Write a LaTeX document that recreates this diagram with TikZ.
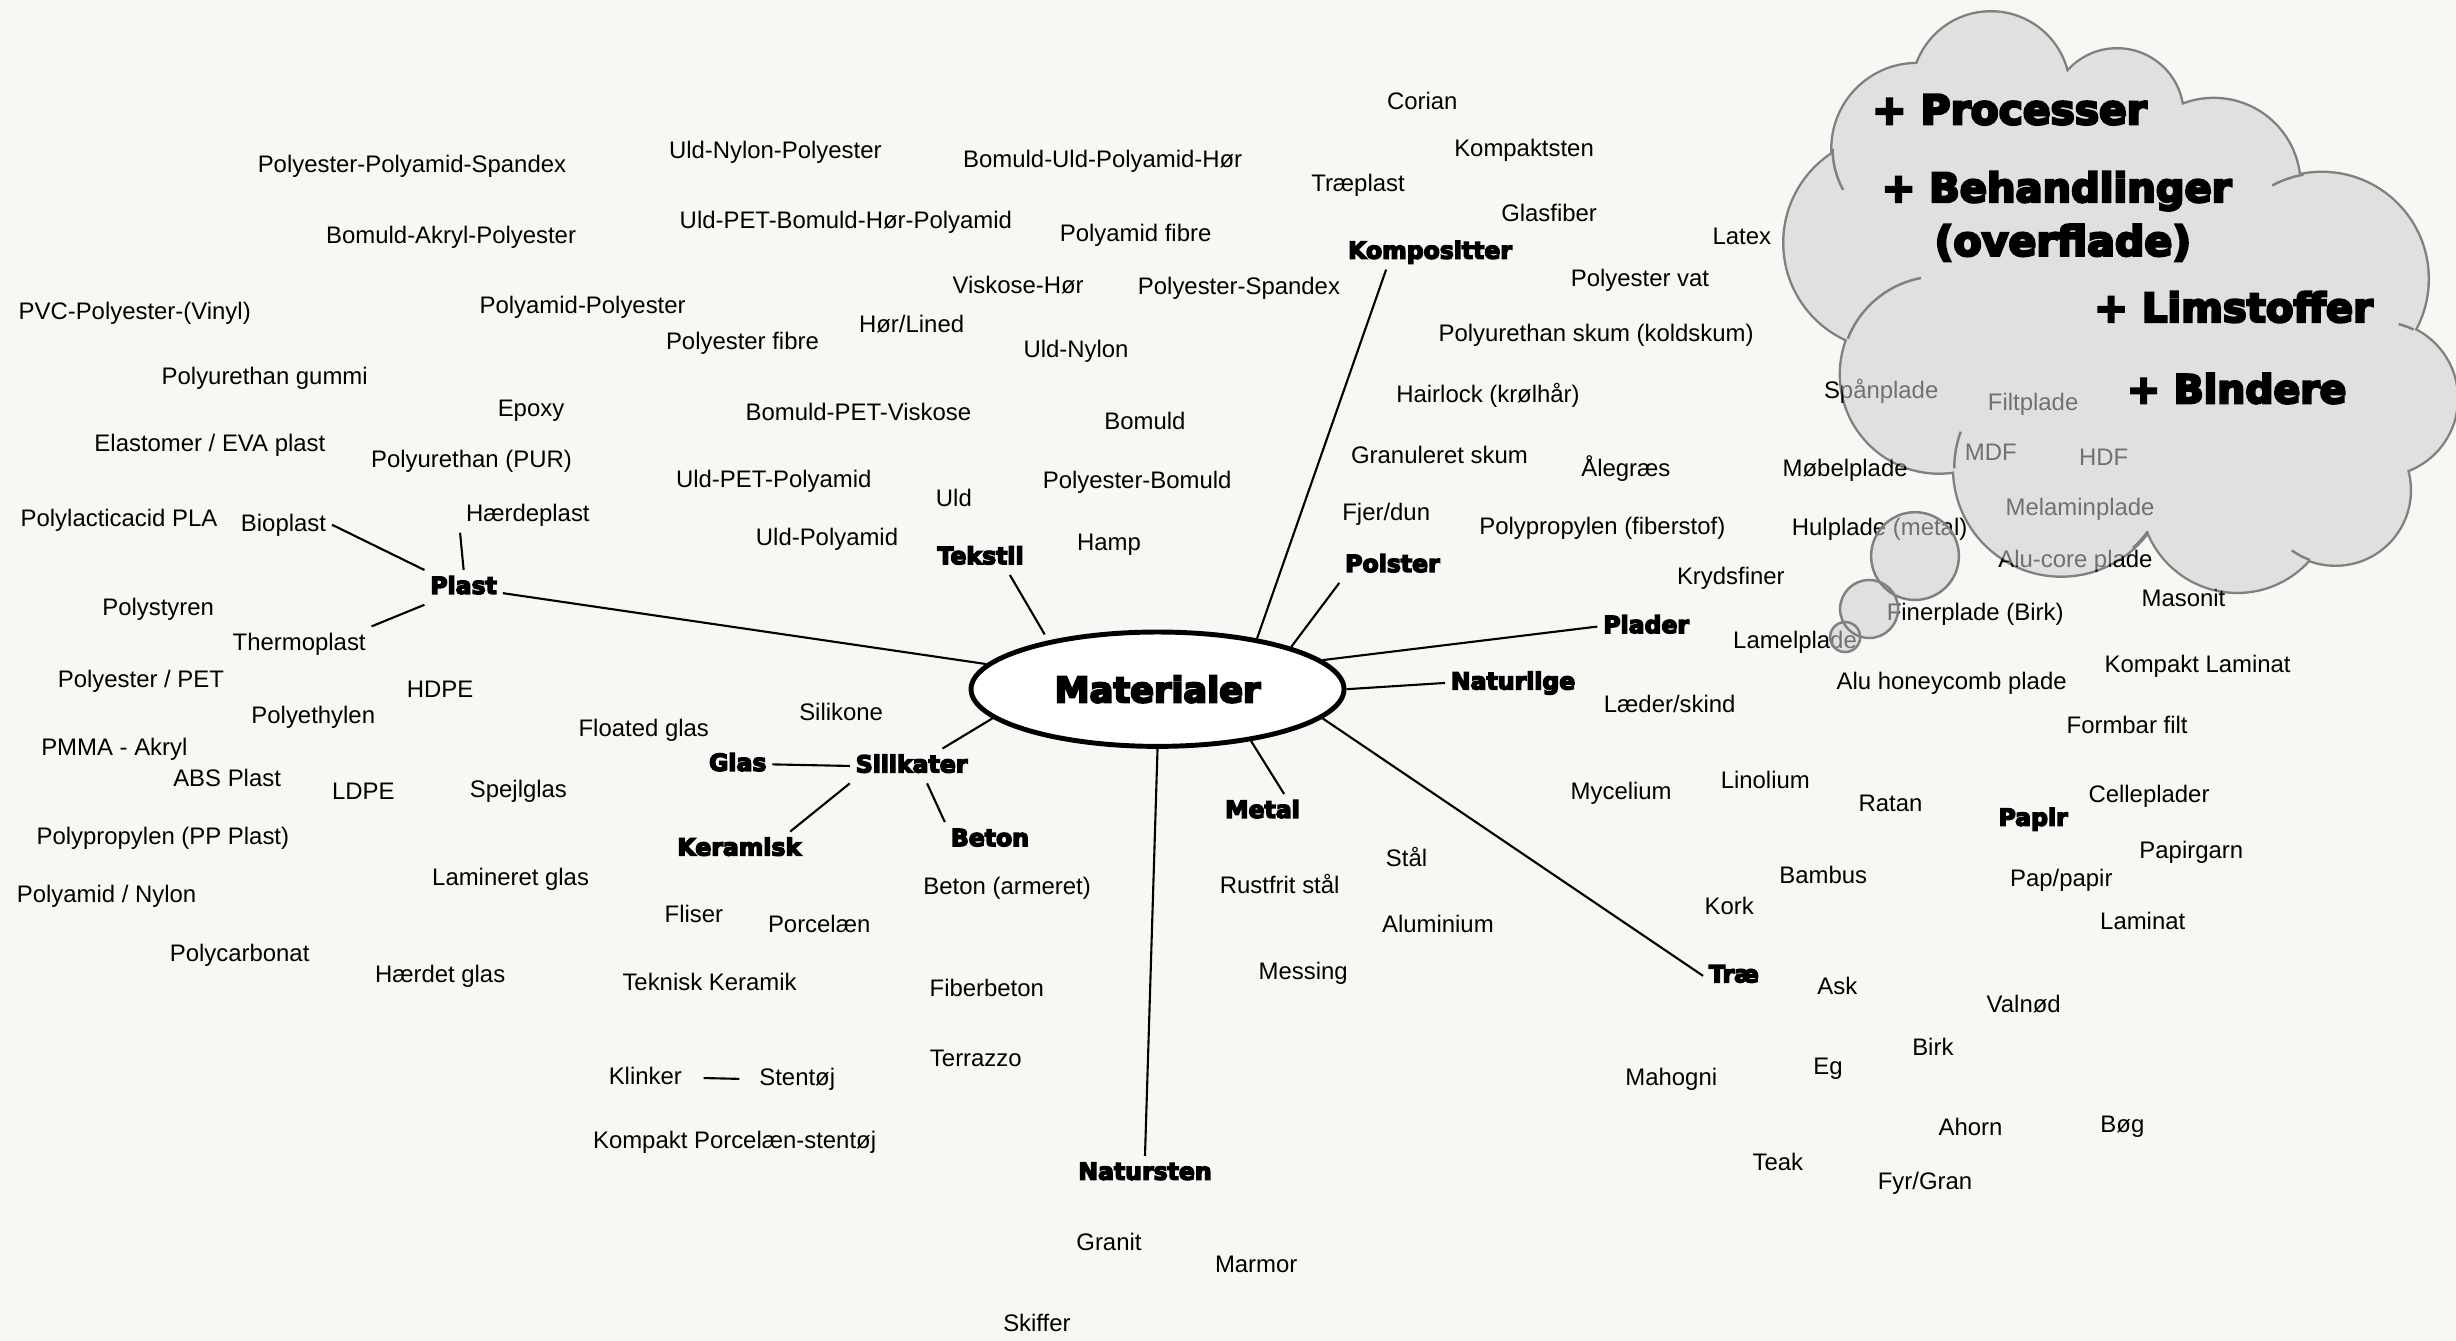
\documentclass[tikz,border=0pt]{standalone}
\usepackage{fontspec}
\setmainfont{Liberation Sans}
\newfontfamily\heavy[FakeBold=6]{DejaVu Sans Bold}
\usetikzlibrary{shapes.geometric,calc}
\definecolor{bgc}{HTML}{F8F7F3}
\definecolor{cloudf}{HTML}{E0E0E0}
\definecolor{cloudl}{HTML}{808080}
\tikzset{
  lbl/.style={font=\fontsize{6.8}{8}\selectfont, inner sep=1.5pt, text height=5.1pt, text depth=1.4pt},
  cat/.style={font=\heavy\fontsize{6.7}{8}\selectfont, inner sep=1.5pt, text height=5.1pt, text depth=1.4pt},
  conn/.style={line width=0.6pt, black},
  bigtxt/.style={font=\heavy\fontsize{#1}{13}\selectfont, inner sep=0pt},
  cloudedge/.style={draw=cloudl, line width=0.7pt},
}
\def\lobes{1271/57.8/0.780, 1224/95/0.846, 1207/155/1.060, 1238/239/0.980, 1316/299/1.070, 1428.3/316.6/0.957, 1491/313/0.742, 1519.5/254.4/0.766, 1482.3/178/1.057, 1413.3/117.9/0.855, 1351.6/73.3/0.653}
\def\fillers{1347/187/1.801, 1440/250/0.800}
\def\bubbles{1222.6/355/0.4386, 1193.3/388.8/0.290, 1178/406.7/0.150}
\begin{document}
\begin{tikzpicture}[x=0.015663cm, y=-0.015663cm]
\fill[bgc] (0,0) rectangle (1568,856);
\useasboundingbox (0,0) rectangle (1568,856);

% ---- cloud (thought bubble) ----
\draw[cloudl, line width=1.4pt] foreach \x/\y/\r in \lobes {(\x,\y) circle[radius=\r cm]};
\fill[cloudf] foreach \x/\y/\r in \lobes {(\x,\y) circle[radius=\r cm]} foreach \x/\y/\r in \fillers {(\x,\y) circle[radius=\r cm]};
\foreach \x/\y/\r in \bubbles {\fill[cloudf] (\x,\y) circle[radius=\r cm];}

% ---- Materialer hub ----
\node[ellipse, draw, line width=1.4pt, fill=white, minimum width=3.728cm, minimum height=1.143cm, inner sep=0pt, font=\heavy\fontsize{10}{11}\selectfont] (mat) at (739,440) {Materialer};

% ---- Plast / left ----
\node[lbl] (ppspandex) at (263,106) {Polyester-Polyamid-Spandex};
\node[lbl] (bap) at (288,151) {Bomuld-Akryl-Polyester};
\node[lbl] (pvc) at (86,200) {PVC-Polyester-(Vinyl)};
\node[lbl] (pampes) at (372,196) {Polyamid-Polyester};
\node[lbl] (pugummi) at (169,241) {Polyurethan gummi};
\node[lbl] (epoxy) at (339,262) {Epoxy};
\node[lbl] (eva) at (134,284) {Elastomer / EVA plast};
\node[lbl] (pur) at (301,294) {Polyurethan (PUR)};
\node[lbl] (pla) at (76,332) {Polylacticacid PLA};
\node[lbl] (bioplast) at (181,335) {Bioplast};
\node[lbl] (haerdeplast) at (337,329) {Hærdeplast};
\node[cat] (plast) at (296,375) {Plast};
\node[lbl] (polystyren) at (101,389) {Polystyren};
\node[lbl] (thermoplast) at (191,411) {Thermoplast};
\node[lbl] (pet) at (90,435) {Polyester / PET};
\node[lbl] (hdpe) at (281,441) {HDPE};
\node[lbl] (polyethylen) at (200,458) {Polyethylen};
\node[lbl] (pmma) at (73,478) {PMMA - Akryl};
\node[lbl] (abs) at (145,498) {ABS Plast};
\node[lbl] (ldpe) at (232,506) {LDPE};
\node[lbl] (spejlglas) at (331,505) {Spejlglas};
\node[lbl] (pp) at (104,535) {Polypropylen (PP Plast)};
\node[lbl] (nylon) at (68,572) {Polyamid / Nylon};
\node[lbl] (polycarbonat) at (153,610) {Polycarbonat};
\node[lbl] (haerdetglas) at (281,623) {Hærdet glas};
\node[lbl] (lamglas) at (326,561) {Lamineret glas};
\node[lbl] (floated) at (411,466) {Floated glas};
\node[lbl] (silikone) at (537,456) {Silikone};
\node[cat] (glas) at (471,488) {Glas};
\node[cat] (silikater) at (582,489) {Silikater};
\node[cat] (keramisk) at (472,542) {Keramisk};
\node[cat] (beton) at (632,536) {Beton};
\node[lbl] (betonarm) at (643,567) {Beton (armeret)};
\node[lbl] (fliser) at (443,585) {Fliser};
\node[lbl] (porcelaen) at (523,591) {Porcelæn};
\node[lbl] (teknisk) at (453,628) {Teknisk Keramik};
\node[lbl] (fiberbeton) at (630,632) {Fiberbeton};
\node[lbl] (terrazzo) at (623,677) {Terrazzo};
\node[lbl] (klinker) at (412,688) {Klinker};
\node[lbl] (stentoj) at (509,689) {Stentøj};
\node[lbl] (kompaktpors) at (469,729) {Kompakt Porcelæn-stentøj};
\node[cat] (natursten) at (731,749) {Natursten};
\node[lbl] (granit) at (708,794) {Granit};
\node[lbl] (marmor) at (802,808) {Marmor};
\node[lbl] (skiffer) at (662,846) {Skiffer};
\node[cat] (metal) at (806,518) {Metal};
\node[lbl] (rustfrit) at (817,566) {Rustfrit stål};
\node[lbl] (staal) at (898,549) {Stål};
\node[lbl] (aluminium) at (918,591) {Aluminium};
\node[lbl] (messing) at (832,621) {Messing};

% ---- Tekstil / top ----
\node[lbl] (unp) at (495,97) {Uld-Nylon-Polyester};
\node[lbl] (upbhp) at (540,142) {Uld-PET-Bomuld-Hør-Polyamid};
\node[lbl] (buph) at (704,103) {Bomuld-Uld-Polyamid-Hør};
\node[lbl] (pafibre) at (725,150) {Polyamid fibre};
\node[lbl] (viskose) at (650,183) {Viskose-Hør};
\node[lbl] (pspandex) at (791,184) {Polyester-Spandex};
\node[lbl] (pfibre) at (474,219) {Polyester fibre};
\node[lbl] (hoer) at (582,208) {Hør/Lined};
\node[lbl] (uldnylon) at (687,224) {Uld-Nylon};
\node[lbl] (bpv) at (548,264) {Bomuld-PET-Viskose};
\node[lbl] (bomuld) at (731,270) {Bomuld};
\node[lbl] (upp) at (494,307) {Uld-PET-Polyamid};
\node[lbl] (pbomuld) at (726,308) {Polyester-Bomuld};
\node[lbl] (uld) at (609,319) {Uld};
\node[lbl] (uldpa) at (528,344) {Uld-Polyamid};
\node[cat] (tekstil) at (626,356) {Tekstil};
\node[lbl] (hamp) at (708,347) {Hamp};

% ---- right side ----
\node[lbl] (corian) at (908,66) {Corian};
\node[lbl] (kompaktsten) at (973,96) {Kompaktsten};
\node[lbl] (traeplast) at (867,118) {Træplast};
\node[lbl] (glasfiber) at (989,137) {Glasfiber};
\node[cat] (kompositter) at (913,161) {Kompositter};
\node[lbl] (latex) at (1112,152) {Latex};
\node[lbl] (pvat) at (1047,179) {Polyester vat};
\node[lbl] (puskum) at (1019,214) {Polyurethan skum (koldskum)};
\node[lbl] (hairlock) at (950,253) {Hairlock (krølhår)};
\node[lbl] (granuleret) at (919,292) {Granuleret skum};
\node[lbl] (alegraes) at (1038,300) {Ålegræs};
\node[lbl] (mobelplade) at (1178,300) {Møbelplade};
\node[lbl] (fjer) at (885,328) {Fjer/dun};
\node[lbl] (ppfiber) at (1023,337) {Polypropylen (fiberstof)};
\node[cat] (polster) at (889,361) {Polster};
\node[lbl] (hulplade) at (1200,338) {Hulplade (metal)};
\node[lbl] (krydsfiner) at (1105,369) {Krydsfiner};
\node[cat] (plader) at (1051,400) {Plader};
\node[lbl] (lamelplade) at (1146,410) {Lamelplade};
\node[lbl] (finerplade) at (1261,392) {Finerplade (Birk)};
\node[lbl] (masonit) at (1394,383) {Masonit};
\node[cat] (naturlige) at (966,436) {Naturlige};
\node[lbl] (aluhoney) at (1246,436) {Alu honeycomb plade};
\node[lbl] (kompaktlam) at (1403,425) {Kompakt Laminat};
\node[lbl] (laeder) at (1066,451) {Læder/skind};
\node[lbl] (formbar) at (1358,464) {Formbar filt};
\node[lbl] (mycelium) at (1035,506) {Mycelium};
\node[lbl] (linolium) at (1127,499) {Linolium};
\node[lbl] (ratan) at (1207,514) {Ratan};
\node[cat] (papir) at (1298,523) {Papir};
\node[lbl] (celleplader) at (1372,508) {Celleplader};
\node[lbl] (papirgarn) at (1399,544) {Papirgarn};
\node[lbl] (pappapir) at (1316,562) {Pap/papir};
\node[lbl] (bambus) at (1164,560) {Bambus};
\node[lbl] (kork) at (1104,580) {Kork};
\node[lbl] (laminat) at (1368,589) {Laminat};
\node[cat] (trae) at (1107,623) {Træ};
\node[lbl] (ask) at (1173,631) {Ask};
\node[lbl] (valnod) at (1292,642) {Valnød};
\node[lbl] (birk) at (1234,670) {Birk};
\node[lbl] (eg) at (1167,682) {Eg};
\node[lbl] (mahogni) at (1067,689) {Mahogni};
\node[lbl] (ahorn) at (1258,721) {Ahorn};
\node[lbl] (bog) at (1355,719) {Bøg};
\node[lbl] (teak) at (1135,743) {Teak};
\node[lbl] (fyr) at (1229,755) {Fyr/Gran};

% ---- texts under the cloud ----
\node[lbl] (spanplade) at (1201,250) {Spånplade};
\node[lbl] (filtplade) at (1298,258) {Filtplade};
\node[lbl] (mdf) at (1271,290) {MDF};
\node[lbl] (hdf) at (1343,293) {HDF};
\node[lbl] (melamin) at (1328,325) {Melaminplade};
\node[lbl] (alucore) at (1325,358) {Alu-core plade};

% ---- cloud veil over the texts beneath it ----
\fill[cloudf, fill opacity=0.5] foreach \x/\y/\r in \lobes {(\x,\y) circle[radius=\r cm]} foreach \x/\y/\r in \fillers {(\x,\y) circle[radius=\r cm]} foreach \x/\y/\r in \bubbles {(\x,\y) circle[radius=\r cm]};
\foreach \x/\y/\r in \bubbles {\draw[cloudedge] (\x,\y) circle[radius=\r cm];}
\draw[cloudedge] (1224,95) ++(180:0.846cm) arc[start angle=180, end angle=209, radius=0.846cm];
\draw[cloudedge] (1238,239) ++(100.7:0.980cm) arc[start angle=100.7, end angle=158.7, radius=0.980cm];
\draw[cloudedge] (1316,299) ++(160:1.070cm) arc[start angle=160, end angle=180, radius=1.070cm];
\draw[cloudedge] (1316,299) ++(312:1.070cm) arc[start angle=312, end angle=324, radius=1.070cm];
\draw[cloudedge] (1491,313) ++(234:0.742cm) arc[start angle=234, end angle=250, radius=0.742cm];
\draw[cloudedge] (1482.3,178) ++(100:1.057cm) arc[start angle=100, end angle=118, radius=1.057cm];
\draw[cloudedge] (1519.5,254.4) ++(64:0.766cm) arc[start angle=64, end angle=76, radius=0.766cm];

% ---- cloud texts ----
\node[bigtxt=11.6] (processer) at (1283,70) {+ Processer};
\node[bigtxt=11.4] (behandlinger) at (1313,122) {+ Behandlinger};
\node[bigtxt=11.7] (overflade) at (1317,155) {(overflade)};
\node[bigtxt=11.4] (limstoffer) at (1426,196) {+ Limstoffer};
\node[bigtxt=11.2] (bindere) at (1428,248) {+ Bindere};

% ---- connectors ----
\draw[conn] (plast) -- (mat);
\draw[conn] (bioplast.east) -- (plast.north west);
\draw[conn] (haerdeplast.south west) -- (plast.north);
\draw[conn] (thermoplast.north east) -- (plast.south west);
\draw[conn, shorten >=2pt] ($(tekstil.south)!.6!(tekstil.south east)$) -- (mat.156);
\draw[conn] ($(kompositter.south)!.5!(kompositter.south west)$) -- (mat.27);
\draw[conn] (polster.south west) -- (mat.north east);
\draw[conn] (plader.west) -- (mat.10);
\draw[conn] (naturlige.west) -- (mat.east);
\draw[conn] (trae.west) -- (mat.350);
\draw[conn] (mat.331) -- ($(metal.north)!.5!(metal.north east)$);
\draw[conn] (mat.south) -- (natursten.north);
\draw[conn] ($(silikater.north)!.5!(silikater.north east)$) -- (mat.190);
\draw[conn] (glas.east) -- (silikater.west);
\draw[conn] (silikater.south west) -- ($(keramisk.north)!.75!(keramisk.north east)$);
\draw[conn] ($(silikater.south)!.25!(silikater.south east)$) -- (beton.north west);
\draw[conn, shorten <=4.5pt, shorten >=4pt] (klinker.east) -- (stentoj.west);
\end{tikzpicture}
\end{document}
